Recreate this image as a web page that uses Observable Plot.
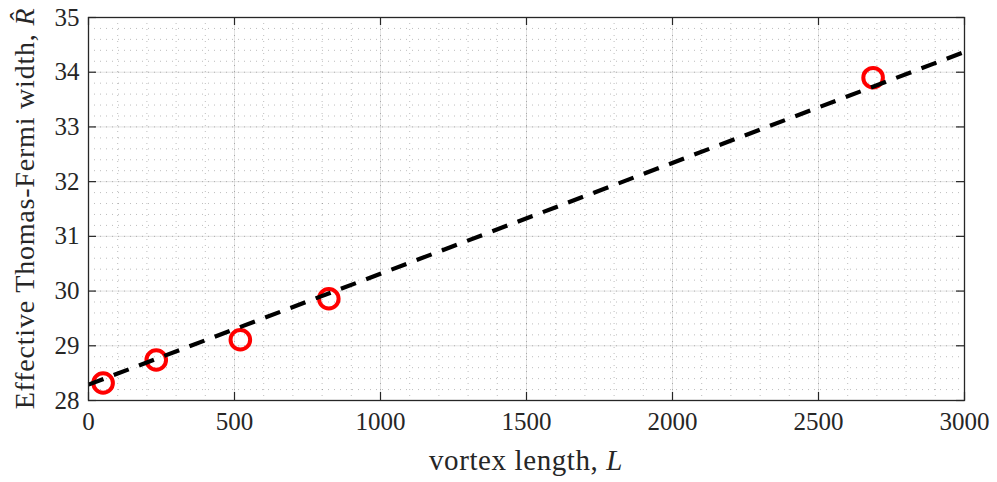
<!DOCTYPE html>
<html><head><meta charset="utf-8">
<script src="https://cdn.jsdelivr.net/npm/d3@7"></script>
<script src="https://cdn.jsdelivr.net/npm/@observablehq/plot@0.6"></script>
<style>
body{margin:0;background:#fff} svg{display:block}
</style>
</head><body><div id="chart"></div>
<script>
// Measured points
const vortexLength = [50, 232, 520, 823, 2687];
const tfWidth = [28.32, 28.74, 29.11, 29.86, 33.90];
// Linear fit (dashed line) end points
const fitL = [0, 3000];
const fitR = [28.29, 34.37];
// Ticks
const xTicks = [0, 500, 1000, 1500, 2000, 2500, 3000];
const yTicks = [28, 29, 30, 31, 32, 33, 34, 35];
const xMinor = d3.range(0, 3001, 100);
const yMinor = d3.range(28, 35.001, 0.2).map(v => +v.toFixed(1));

const points = vortexLength.map((L, i) => ({L, R: tfWidth[i]}));
const fit = fitL.map((L, i) => ({L, R: fitR[i]}));

const W = 997, H = 482, mL = 88, mR = 33, mT = 17, mB = 82;
const fw = W - mL - mR, fh = H - mT - mB;
const ink = "#262626";
const tick = 8;

const chart = Plot.plot({
  width: W, height: H,
  marginLeft: mL, marginRight: mR, marginTop: mT, marginBottom: mB,
  style: {fontFamily: "'Liberation Serif', serif", fontSize: "26px", color: ink, background: "#fff"},
  x: {domain: [0, 3000]},
  y: {domain: [28, 35]},
  marks: [
    Plot.ruleX(xMinor, {stroke: ink, strokeOpacity: 0.3, strokeDasharray: "1,5"}),
    Plot.ruleY(yMinor, {stroke: ink, strokeOpacity: 0.3, strokeDasharray: "1,5"}),
    Plot.ruleX(xTicks, {stroke: ink, strokeOpacity: 0.13}),
    Plot.ruleY(yTicks, {stroke: ink, strokeOpacity: 0.13}),
    Plot.dot(points, {x: "L", y: "R", r: 9.8, stroke: "#ff0000", strokeWidth: 4, fill: "none"}),
    Plot.line(fit, {x: "L", y: "R", stroke: "#000", strokeWidth: 4.2, strokeDasharray: "16,11", strokeLinecap: "butt"}),
    Plot.tickX(xTicks, {x: d => d, insetTop: fh - tick, stroke: ink, strokeWidth: 1.2}),
    Plot.tickX(xTicks, {x: d => d, insetBottom: fh - tick, stroke: ink, strokeWidth: 1.2}),
    Plot.tickY(yTicks, {y: d => d, insetRight: fw - tick, stroke: ink, strokeWidth: 1.2}),
    Plot.tickY(yTicks, {y: d => d, insetLeft: fw - tick, stroke: ink, strokeWidth: 1.2}),
    Plot.frame({stroke: ink, strokeWidth: 1.3}),
    Plot.axisX(xTicks, {tickSize: 0, tickPadding: 12, label: null, tickFormat: d => String(d), fill: ink}),
    Plot.axisY(yTicks, {tickSize: 0, tickPadding: 9, label: null, tickFormat: d => String(d), fill: ink})
  ]
});
document.getElementById("chart").append(chart);

const svg = d3.select(chart);
// enlarge every tick label (the only texts Plot drew)
svg.selectAll("text")
  .attr("font-size", 25)
  .style("font-size", "25px")
  .style("font-family", "'Liberation Serif', serif");
svg.selectAll("g").filter(function() { return this.querySelector("text"); })
  .attr("font-size", 25);

const xl = svg.append("text")
  .attr("x", mL + fw / 2).attr("y", 470)
  .attr("text-anchor", "middle")
  .attr("fill", ink)
  .style("font-family", "'Liberation Serif', serif")
  .style("font-size", "29px")
  .style("letter-spacing", "0.6px");
xl.append("tspan").text("vortex length, ");
xl.append("tspan").style("font-style", "italic").text("L");

const yl = svg.append("text")
  .attr("transform", `translate(34,${mT + fh / 2}) rotate(-90)`)
  .attr("text-anchor", "middle")
  .attr("fill", ink)
  .style("font-family", "'Liberation Serif', serif")
  .style("font-size", "28px")
  .style("letter-spacing", "0.8px");
yl.append("tspan").text("Effective Thomas-Fermi width, ");
yl.append("tspan").style("font-style", "italic").text("R\u0302");
</script>
</body></html>
